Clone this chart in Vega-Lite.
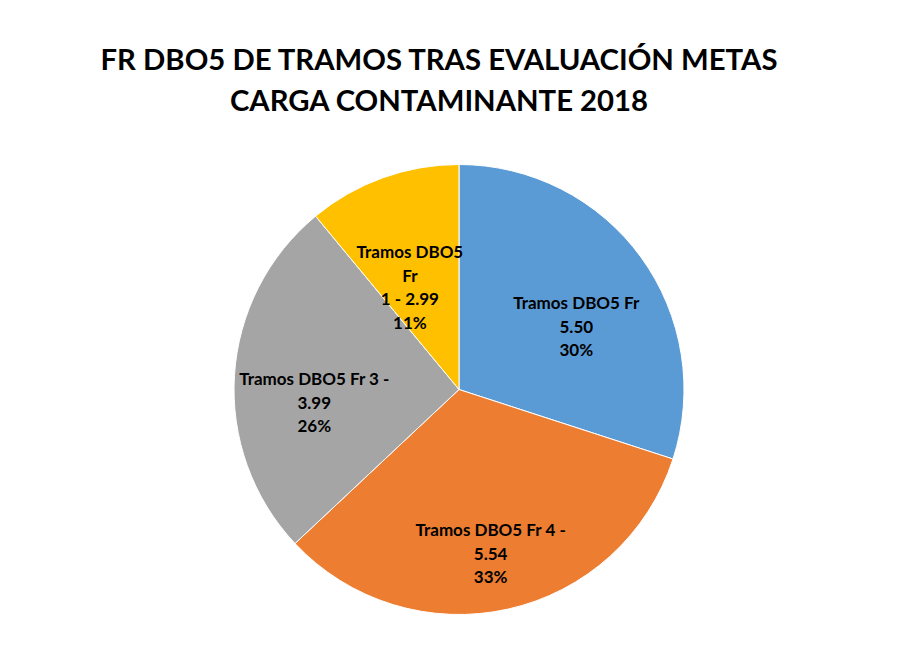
{
  "$schema": "https://vega.github.io/schema/vega-lite/v6.json",
  "autosize": {"type": "fit", "contains": "padding"},
  "width": 899,
  "height": 664,
  "padding": {"left": 24, "right": 5, "top": 46, "bottom": 0},
  "background": "white",
  "title": {
    "text": ["FR DBO5 DE TRAMOS TRAS EVALUACIÓN METAS", "CARGA CONTAMINANTE 2018"],
    "font": "Lato",
    "fontSize": 29.3,
    "fontWeight": "bold",
    "color": "#000000",
    "lineHeight": 41,
    "anchor": "middle",
    "dx": -20,
    "offset": -2
  },
  "config": {"view": {"stroke": null}},
  "data": {
    "values": [
      {"tramo": "Tramos DBO5  Fr 5.50", "n": 1, "pct": 30, "label": "Tramos DBO5  Fr\n5.50\n30%"},
      {"tramo": "Tramos DBO5 Fr 4 - 5.54", "n": 2, "pct": 33, "label": "Tramos DBO5 Fr 4 -\n5.54\n33%"},
      {"tramo": "Tramos DBO5 Fr 3 - 3.99", "n": 3, "pct": 26, "label": "Tramos DBO5 Fr 3 -\n3.99\n26%"},
      {"tramo": "Tramos DBO5 Fr 1 - 2.99", "n": 4, "pct": 11, "label": "Tramos DBO5\nFr\n1 - 2.99\n11%"}
    ]
  },
  "encoding": {
    "theta": {"field": "pct", "type": "quantitative", "stack": true},
    "order": {"field": "n", "type": "quantitative"}
  },
  "layer": [
    {
      "mark": {"type": "arc", "outerRadius": 225, "stroke": "white", "strokeWidth": 1},
      "encoding": {
        "color": {
          "field": "tramo",
          "type": "nominal",
          "scale": {
            "domain": ["Tramos DBO5  Fr 5.50", "Tramos DBO5 Fr 4 - 5.54", "Tramos DBO5 Fr 3 - 3.99", "Tramos DBO5 Fr 1 - 2.99"],
            "range": ["#5B9BD5", "#ED7D31", "#A5A5A5", "#FFC000"]
          },
          "legend": null
        }
      }
    },
    {
      "mark": {"type": "text", "radius": 145, "font": "Lato", "fontSize": 17, "fontWeight": "bold", "color": "#000000", "lineBreak": "\n", "lineHeight": 23.5, "align": "center", "baseline": "middle"},
      "encoding": {
        "text": {"field": "label", "type": "nominal"}
      }
    }
  ]
}
